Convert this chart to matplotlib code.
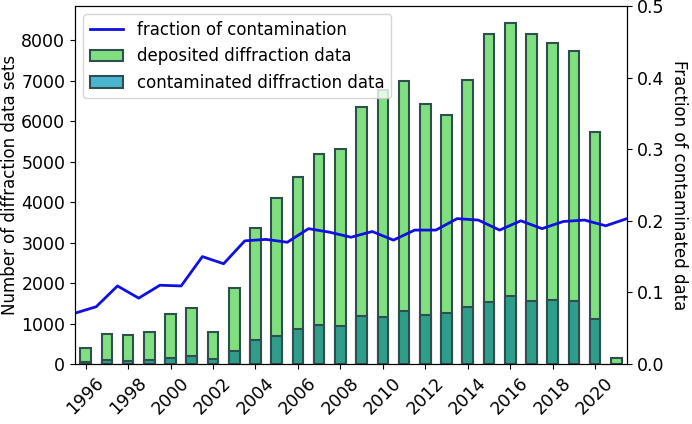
import matplotlib
matplotlib.use('Agg')
import matplotlib.pyplot as plt
from matplotlib.patches import Patch
import numpy as np

years = np.arange(1996, 2022)
deposited = [395, 741, 723, 780, 1225, 1373, 798, 1884, 3370, 4114,
             4617, 5193, 5316, 6361, 6760, 7003, 6427, 6163, 7020, 8163,
             8427, 8148, 7926, 7743, 5743, 138]
contaminated = [40, 90, 74, 99, 140, 205, 115, 329, 588, 699,
                872, 953, 938, 1176, 1160, 1316, 1200, 1249, 1415, 1531,
                1686, 1546, 1570, 1556, 1111, 0]

# fraction is sampled between the years (year boundaries 1995.5 .. 2021.5)
frac_years = np.arange(1995, 2022) + 0.5
fraction = [0.071, 0.080, 0.109, 0.092, 0.110, 0.109, 0.150, 0.140, 0.172,
            0.174, 0.170, 0.189, 0.184, 0.177, 0.185, 0.173, 0.187, 0.187,
            0.203, 0.201, 0.187, 0.200, 0.189, 0.199, 0.201, 0.193, 0.203]

green = '#80E080'
teal = '#2E9E8A'
legend_blue = '#4AB5D0'
edge = '#2F4F4F'

fig = plt.figure(figsize=(6.92, 4.24), dpi=100)
ax = fig.add_subplot()
fig.subplots_adjust(left=0.1084, right=0.906, top=0.986, bottom=0.1415)

ax.bar(years, deposited, width=0.5, color=green, edgecolor=edge, linewidth=1.5)
ax.bar(years, contaminated, width=0.5, color=teal, edgecolor=edge, linewidth=1.5)
ax.set_ylabel('Number of diffraction data sets', fontsize=12, labelpad=1.5)
ax.set_xticks(np.arange(1996, 2021, 2))
ax.tick_params(axis='x', labelrotation=45, labelsize=12.5)
ax.tick_params(axis='y', labelsize=12.5)

ax2 = ax.twinx()
line, = ax2.plot(frac_years, fraction, c='#1010E0', lw=2)
ax2.set_ylim(0, 0.5)
ax2.tick_params(axis='y', labelsize=12.5)
ax2.set_ylabel('Fraction of contaminated data', fontsize=12, rotation=270, labelpad=17)
ax.set_xlim(1995.5, 2021.5)

handles = [line,
           Patch(facecolor=green, edgecolor=edge, linewidth=1.5),
           Patch(facecolor=legend_blue, edgecolor=edge, linewidth=1.5)]
labels = ['fraction of contamination', 'deposited diffraction data',
          'contaminated diffraction data']
ax2.legend(handles, labels, loc='upper left', fontsize=12)

fig.savefig('out.png', dpi=100)
